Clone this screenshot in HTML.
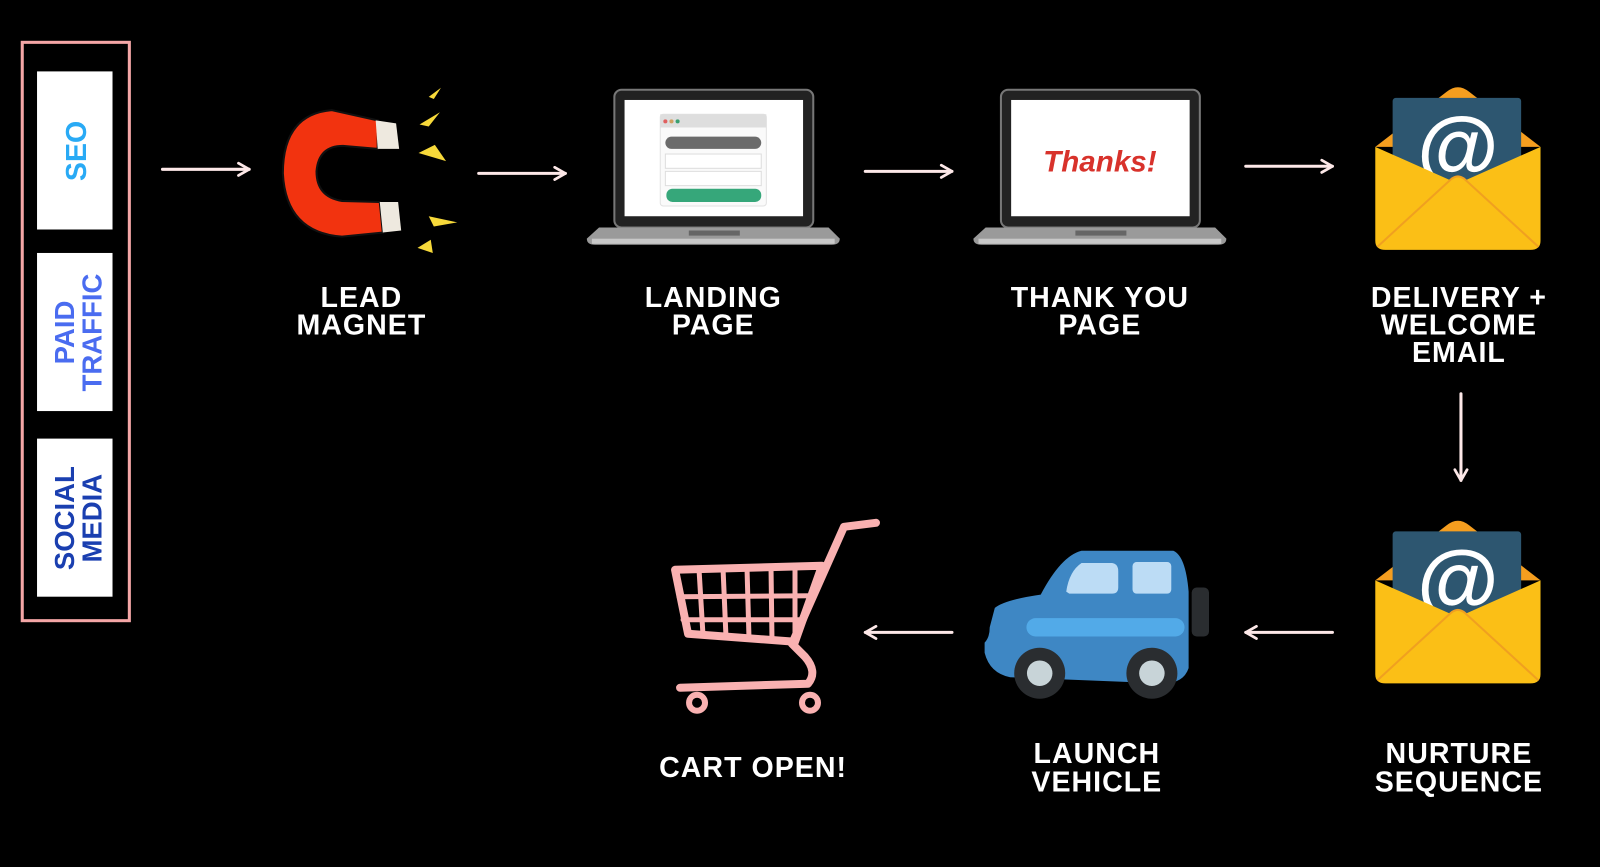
<!DOCTYPE html>
<html><head><meta charset="utf-8"><style>
html,body{margin:0;padding:0;background:#000;width:1600px;height:867px;overflow:hidden}
svg{display:block}
text{font-family:"Liberation Sans",sans-serif;font-weight:bold}
</style></head><body>
<svg width="1600" height="867" viewBox="0 0 1568 850" xmlns="http://www.w3.org/2000/svg">
<defs>
<marker id="ah" viewBox="0 0 10 10" refX="8" refY="5" markerWidth="5" markerHeight="5" orient="auto">
<path d="M1,1 L8,5 L1,9" fill="none" stroke="#fde8e8" stroke-width="1.8" stroke-linecap="round" stroke-linejoin="round"/></marker>
<g id="env">
<path d="M0,60 L70,6 Q81,-3 92,6 L162,60 Z" fill="#f59e1f"/>
<rect x="17" y="12" width="126" height="96" rx="3" fill="#2d5670"/>
<text x="81" y="88" text-anchor="middle" font-size="82" fill="#fff">@</text>
<path d="M0,60 L81,96 L162,60 L162,152 Q162,161 152,161 L10,161 Q0,161 0,152 Z" fill="#fbbf16"/>
<path d="M2,158 L74,92 Q81,86 88,92 L160,158" fill="#fbbf16" stroke="#f0a020" stroke-width="2"/>
</g>
<g id="lap">
<rect x="27" y="0" width="195" height="135" rx="7" fill="#222" stroke="#777" stroke-width="2"/>
<rect x="37" y="10" width="175" height="114" fill="#fff"/>
<path d="M12,135 L237,135 L248,146 Q248,152 240,152 L8,152 Q0,152 0,146 Z" fill="#9a9a9a"/>
<rect x="5" y="146" width="238" height="5" fill="#c8c8c8"/>
<rect x="100" y="138" width="50" height="5" fill="#666"/>
</g>
</defs>
<rect x="21.5" y="41.5" width="105" height="567" fill="none" stroke="#f4a6a6" stroke-width="3"/>
<rect x="36" y="70" width="74" height="155" fill="#fff"/>
<rect x="36" y="248" width="74" height="155" fill="#fff"/>
<rect x="36" y="430" width="74" height="155" fill="#fff"/>
<text transform="translate(84,148) rotate(-90)" text-anchor="middle" font-size="28" fill="#29aaf5">SEO</text>
<text transform="translate(72,326) rotate(-90)" text-anchor="middle" font-size="27" fill="#4a6cf0">PAID</text>
<text transform="translate(99,326) rotate(-90)" text-anchor="middle" font-size="27" fill="#4a6cf0">TRAFFIC</text>
<text transform="translate(72,508) rotate(-90)" text-anchor="middle" font-size="27" fill="#1a3fb0">SOCIAL</text>
<text transform="translate(99,508) rotate(-90)" text-anchor="middle" font-size="27" fill="#1a3fb0">MEDIA</text>
<g stroke="#fde8e8" stroke-width="3" stroke-linecap="round" marker-end="url(#ah)" fill="none">
<line x1="159" y1="166" x2="244" y2="166"/>
<line x1="469" y1="170" x2="554" y2="170"/>
<line x1="848" y1="168" x2="933" y2="168"/>
<line x1="1221" y1="163" x2="1306" y2="163"/>
<line x1="1432" y1="386" x2="1432" y2="471"/>
<line x1="1306" y1="620" x2="1221" y2="620"/>
<line x1="933" y1="620" x2="848" y2="620"/>
</g>
<path d="M370,118 L325,108 Q277,112 277,170 Q280,228 335,232 L375,228 L372,198 L335,197 Q310,193 310,168 Q312,143 336,143 L370,146 Z" fill="#f2330f" stroke="#111" stroke-width="2"/>
<path d="M368,118 L388,121 L391,146 L370,146 Z" fill="#eee9df"/>
<path d="M372,198 L390,198 L393,226 L375,228 Z" fill="#eee9df"/>
<g fill="#f7d93a">
<path d="M420,95 L432,86 L425,97 Z"/><path d="M411,122 L431,110 L420,124 Z"/>
<path d="M410,150 L426,142 L437,158 Z"/><path d="M420,212 L448,218 L425,222 Z"/>
<path d="M409,243 L422,235 L424,248 Z"/>
</g>
<use href="#lap" x="575" y="88"/>
<rect x="647" y="112" width="104" height="90" rx="3" fill="#fafafa" stroke="#e2e2e2"/>
<rect x="647" y="112" width="104" height="13" fill="#dedede"/>
<circle cx="652" cy="119" r="2" fill="#e06060"/><circle cx="658" cy="119" r="2" fill="#d0a060"/><circle cx="664" cy="119" r="2" fill="#3aa070"/>
<rect x="652" y="134" width="94" height="12" rx="6" fill="#6b6b6b"/>
<rect x="652" y="151" width="94" height="14" fill="#fff" stroke="#ddd"/>
<rect x="652" y="168" width="94" height="14" fill="#fff" stroke="#ddd"/>
<rect x="653" y="185" width="93" height="13" rx="6" fill="#36a77a"/>
<use href="#lap" x="954" y="88"/>
<text x="1078" y="168" text-anchor="middle" font-size="29" font-style="italic" fill="#d8322b">Thanks!</text>
<use href="#env" x="1348" y="84"/>
<use href="#env" x="1348" y="509"/>
<rect x="1168" y="576" width="17" height="48" rx="5" fill="#2a2d30"/>
<path d="M975,596 Q985,588 1020,583 Q1040,545 1060,540 L1150,540 Q1162,545 1165,580 L1165,655 Q1160,670 1140,670 L990,664 Q970,660 965,640 L965,630 Q970,625 970,615 Z" fill="#3e87c4"/>
<path d="M1045,580 Q1048,560 1060,552 L1090,552 Q1096,553 1096,560 L1096,576 Q1096,582 1090,582 L1048,582 Z" fill="#bcdcf5"/>
<rect x="1110" y="551" width="38" height="31" rx="4" fill="#bcdcf5"/>
<rect x="1006" y="606" width="155" height="18" rx="9" fill="#52aae8"/>
<circle cx="1019" cy="660" r="25" fill="#2a2d30"/><circle cx="1019" cy="660" r="12.5" fill="#c8d4d8"/>
<circle cx="1129" cy="660" r="25" fill="#2a2d30"/><circle cx="1129" cy="660" r="12.5" fill="#c8d4d8"/>
<g transform="scale(0.98)" fill="none" stroke="#f9b1b1" stroke-width="8" stroke-linecap="round" stroke-linejoin="round">
<path d="M876,523 L844,527 L792,644 L805,657 Q818,672 808,684 L680,688"/>
<path d="M675,570 L822,566 L795,642 L688,634 Z"/>
<g stroke-width="5"><line x1="699" y1="570" x2="703" y2="636"/><line x1="723" y1="569" x2="726" y2="638"/><line x1="747" y1="569" x2="749" y2="639"/><line x1="771" y1="568" x2="772" y2="641"/><line x1="795" y1="567" x2="795" y2="642"/>
<line x1="679" y1="597" x2="812" y2="596"/><line x1="683" y1="620" x2="804" y2="620"/></g>
<circle cx="697" cy="703" r="8" stroke-width="6"/><circle cx="810" cy="703" r="8" stroke-width="6"/>
</g>
<g fill="#fff" font-size="28" text-anchor="middle" letter-spacing="1">
<text x="354" y="301">LEAD</text><text x="354" y="328">MAGNET</text>
<text x="699" y="301">LANDING</text><text x="699" y="328">PAGE</text>
<text x="1078" y="301">THANK YOU</text><text x="1078" y="328">PAGE</text>
<text x="1430" y="301">DELIVERY +</text><text x="1430" y="328">WELCOME</text><text x="1430" y="355">EMAIL</text>
<text x="738" y="762">CART OPEN!</text>
<text x="1075" y="748">LAUNCH</text><text x="1075" y="776">VEHICLE</text>
<text x="1430" y="748">NURTURE</text><text x="1430" y="776">SEQUENCE</text>
</g>
</svg>
</body></html>
